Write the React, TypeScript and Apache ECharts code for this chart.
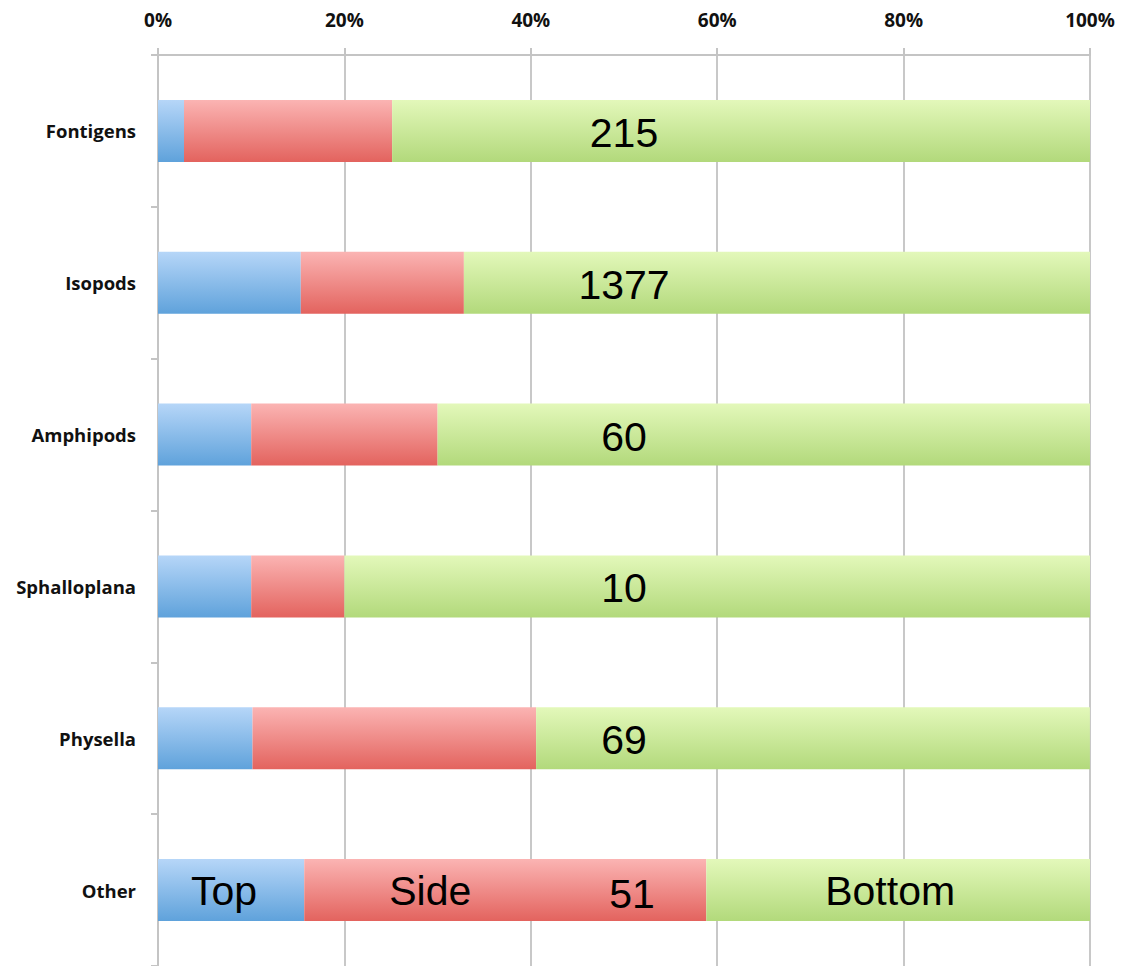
import React, { useEffect, useRef } from "react";
import * as echarts from "echarts";

const categories = ["Fontigens", "Isopods", "Amphipods", "Sphalloplana", "Physella", "Other"];
const topCounts = [6, 211, 6, 1, 7, 8];
const sideCounts = [48, 241, 12, 1, 21, 22];
const bottomCounts = [161, 925, 42, 8, 41, 21];
const totals = [215, 1377, 60, 10, 69, 51];
const xTicks = [0, 20, 40, 60, 80, 100];

const pct = (arr: number[]) => arr.map((v, i) => +((v / totals[i]) * 100).toFixed(2));

const grad = (top: string, bottom: string) =>
  new echarts.graphic.LinearGradient(0, 0, 0, 1, [
    { offset: 0, color: top },
    { offset: 1, color: bottom },
  ]);

const AXIS_FONT = "'Open Sans', 'DejaVu Sans', sans-serif";
const DATA_FONT = "'Liberation Sans', Arial, sans-serif";

export default function App() {
  const ref = useRef<HTMLDivElement>(null);
  useEffect(() => {
    if (!ref.current) return;
    const chart = echarts.init(ref.current, null, { renderer: "svg" });
    const segLabel = (name: string, offset: number[]) => ({
      show: true,
      position: "inside",
      offset,
      fontFamily: DATA_FONT,
      fontSize: 41,
      color: "#000",
      textBorderWidth: 0,
      formatter: () => name,
    });
    const lastOnly = (arr: number[], name: string, offset: number[]) =>
      arr.map((v, i) =>
        i === categories.length - 1 ? { value: v, label: segLabel(name, offset) } : v
      );
    chart.setOption({
      animation: false,
      grid: { left: 158, right: 31, top: 55, bottom: -2, containLabel: false },
      xAxis: {
        type: "value",
        position: "top",
        min: xTicks[0],
        max: xTicks[xTicks.length - 1],
        interval: 20,
        axisLine: { show: true, lineStyle: { color: "#c4c4c4", width: 2 } },
        axisTick: { show: true, length: 7, lineStyle: { color: "#c4c4c4", width: 2 } },
        splitLine: { show: true, lineStyle: { color: "#c8c8c8", width: 2 } },
        axisLabel: {
          formatter: "{value}%",
          fontFamily: AXIS_FONT,
          fontWeight: "bold",
          fontSize: 19,
          color: "#111",
          margin: 26,
        },
      },
      yAxis: {
        type: "category",
        inverse: true,
        data: categories,
        axisLine: { show: true, lineStyle: { color: "#c4c4c4", width: 2 } },
        axisTick: { show: true, length: 7, lineStyle: { color: "#c4c4c4", width: 2 } },
        axisLabel: {
          fontFamily: AXIS_FONT,
          fontWeight: "bold",
          fontSize: 18.5,
          color: "#111",
          margin: 22,
        },
      },
      series: [
        {
          name: "Top",
          type: "bar",
          stack: "total",
          barWidth: 62,
          itemStyle: { color: grad("#b6d6f8", "#5fa2db") },
          label: { show: false },
          data: lastOnly(pct(topCounts), "Top", [-7, 1]),
        },
        {
          name: "Side",
          type: "bar",
          stack: "total",
          barWidth: 62,
          itemStyle: { color: grad("#fbb4b3", "#e3635e") },
          label: { show: false },
          data: lastOnly(pct(sideCounts), "Side", [-75, 1]),
        },
        {
          name: "Bottom",
          type: "bar",
          stack: "total",
          barWidth: 62,
          itemStyle: { color: grad("#e3f8ba", "#b2d97b") },
          label: { show: false },
          data: lastOnly(pct(bottomCounts), "Bottom", [-8, 1]),
        },
        {
          name: "Total",
          type: "scatter",
          symbolSize: 0,
          itemStyle: { color: "#000", opacity: 1 },
          z: 5,
          silent: true,
          label: {
            show: true,
            position: "inside",
            fontFamily: DATA_FONT,
            fontSize: 41,
            color: "#000",
            opacity: 1,
            textBorderWidth: 0,
            offset: [0, 2],
            formatter: (p: any) => String(totals[p.dataIndex]),
          },
          data: categories.map((c, i) =>
            i === categories.length - 1
              ? { value: [50, c], label: { offset: [8, 4] } }
              : { value: [50, c] }
          ),
        },
      ],
    });
    return () => chart.dispose();
  }, []);
  return (
    <div
      ref={ref}
      style={{ position: "absolute", left: 0, top: 0, width: 1121, height: 966, background: "#fff" }}
    />
  );
}
